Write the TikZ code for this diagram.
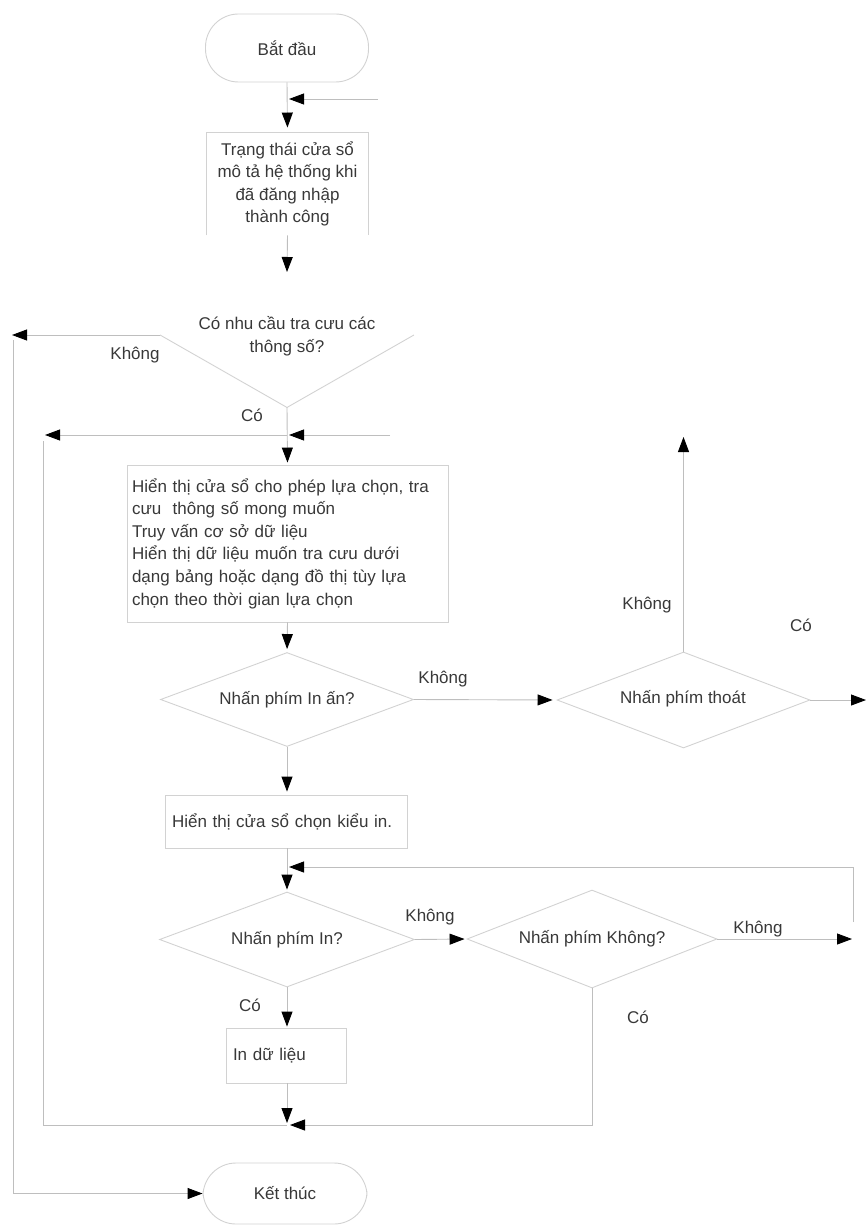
\documentclass[tikz,border=0pt]{standalone}
\usepackage{fontspec}
\setmainfont{Liberation Sans}
\usetikzlibrary{arrows.meta,shapes.geometric}
\definecolor{linec}{HTML}{BEBEBE}
\definecolor{shapec}{HTML}{D2D2D2}
\definecolor{txtc}{HTML}{383838}
\begin{document}
\begin{tikzpicture}[x=1pt,y=-1pt,
  font=\fontsize{17}{22.6}\selectfont,
  conn/.style={draw=linec, line width=0.9pt},
  arr/.style={conn, -{Triangle[length=15pt,width=11pt,color=black]}},
  shapeline/.style={draw=shapec, line width=0.9pt},
  term/.style={shapeline, rounded corners=33pt, minimum width=163pt, minimum height=68pt, inner sep=0pt, text=txtc},
  box/.style={shapeline, inner ysep=0pt, text=txtc},
  dia/.style={diamond, shapeline, inner sep=0pt},
  lbl/.style={inner sep=0pt, text=txtc}]
\useasboundingbox (0,0) rectangle (867,1225);

% nodes
\node[term] (start) at (287,48) {Bắt đầu};
\node[box, draw=none, minimum width=161pt, minimum height=102pt, align=center] (box1) at (287.5,184) {Trạng thái cửa sổ\\mô tả hệ thống khi\\đã đăng nhập\\thành công};
\draw[shapeline] (box1.south west) -- (box1.north west) -- (box1.north east) -- (box1.south east);

\node[dia, draw=none, minimum width=253pt, minimum height=144pt] (d1) at (287,335) {};
\node[lbl, align=center] (d1t) at (287,336) {Có nhu cầu tra cưu các\\thông số?};
\draw[shapeline] (d1.west) -- (d1.south) -- (d1.east);

\node[box, minimum width=321pt, minimum height=157pt, text width=311pt, align=left, inner xsep=5pt] (box2) at (287.5,543.5) {Hiển thị cửa sổ cho phép lựa chọn, tra\\cưu\ \ thông số mong muốn\\Truy vấn cơ sở dữ liệu\\Hiển thị dữ liệu muốn tra cưu dưới\\dạng bảng hoặc dạng đồ thị tùy lựa\\chọn theo thời gian lựa chọn};

\node[dia, minimum width=253pt, minimum height=94pt] (d2) at (287,699.5) {};
\node[lbl] (d2t) at (d2) {Nhấn phím In ấn?};

\node[dia, minimum width=253pt, minimum height=96pt] (d3) at (683.5,700) {};
\node[lbl] (d3t) at (683,699) {Nhấn phím thoát};

\node[box, minimum width=242pt, minimum height=53pt, text width=228pt, align=left, inner xsep=7pt] (box3) at (286,821.5) {Hiển thị cửa sổ chọn kiểu in.};

\node[dia, minimum width=255pt, minimum height=95pt] (d4) at (287,939.5) {};
\node[lbl] (d4t) at (d4) {Nhấn phím In?};

\node[dia, minimum width=250pt, minimum height=98pt] (d5) at (592,939) {};
\node[lbl] (d5t) at (d5) {Nhấn phím Không?};

\node[box, minimum width=120pt, minimum height=55pt, text width=106pt, align=left, inner xsep=7pt] (box4) at (286,1055.5) {In dữ liệu};

\node[term, minimum width=164pt, minimum height=61pt] (end) at (285,1193.5) {Kết thúc};

% labels
\node[lbl] (l1) at (135,355) {Không};
\node[lbl] (l2) at (252,415) {Có};
\node[lbl] (l3) at (443,679) {Không};
\node[lbl] (l4) at (647,605) {Không};
\node[lbl] (l5) at (801,625) {Có};
\node[lbl] (l6) at (430,917) {Không};
\node[lbl] (l7) at (758,929) {Không};
\node[lbl] (l8) at (250,1005) {Có};
\node[lbl] (l9) at (638,1017) {Có};

% coordinates
\coordinate (r1) at (378,99);
\coordinate (j0) at (289,99);
\coordinate (a1) at (287,272);
\coordinate (L1) at (12,335);
\coordinate (L1b) at (13,340);
\coordinate (L2) at (13,1193.5);
\coordinate (r2) at (390,435);
\coordinate (j1) at (289,435);
\coordinate (j1b) at (287,435);
\coordinate (L3) at (45,435);
\coordinate (L3b) at (43,441);
\coordinate (L4) at (43,1125);
\coordinate (j2) at (287,1125);
\coordinate (j2t) at (287,1123);
\coordinate (j2r) at (290,1125);
\coordinate (u1) at (683.5,437);
\coordinate (r3) at (866,700);
\coordinate (r4) at (852,939);
\coordinate (q1) at (853,922);
\coordinate (q2) at (853,867);
\coordinate (j3) at (289,867);

% connectors
\draw[arr, shorten >=5pt] (start.south) -- (box1.north);
\draw[arr] (r1) -- (j0);
\draw[arr] (box1.south) -- (a1);
\draw[arr] (d1.west) -- (L1);
\draw[arr] (L1b) -- (L2) -- (end.west);
\draw[arr, shorten >=2pt] (d1.south) -- (box2.north);
\draw[arr] (r2) -- (j1);
\draw[arr] (j1b) -- (L3);
\draw[conn] (L3b) -- (L4) -- (j2);
\draw[arr, shorten >=3pt] (box2.south) -- (d2.north);
\draw[arr, shorten >=4pt] (d2.east) -- (d3.west);
\draw[arr] (d3.north) -- (u1);
\draw[arr] (d3.east) -- (r3);
\draw[arr, shorten >=3pt] (d2.south) -- (d2.south |- box3.north);
\draw[arr, shorten >=2pt] (d4.north |- box3.south) -- (d4.north);
\draw[arr, shorten >=2pt] (d4.east) -- (d5.west);
\draw[arr] (d5.east) -- (r4);
\draw[arr] (q1) -- (q2) -- (j3);
\draw[arr, shorten >=1pt] (d4.south) -- (d4.south |- box4.north);
\draw[arr] (j2t |- box4.south) -- (j2t);
\draw[arr] (d5.south) -- (d5.south |- j2) -- (j2r);
\end{tikzpicture}
\end{document}
